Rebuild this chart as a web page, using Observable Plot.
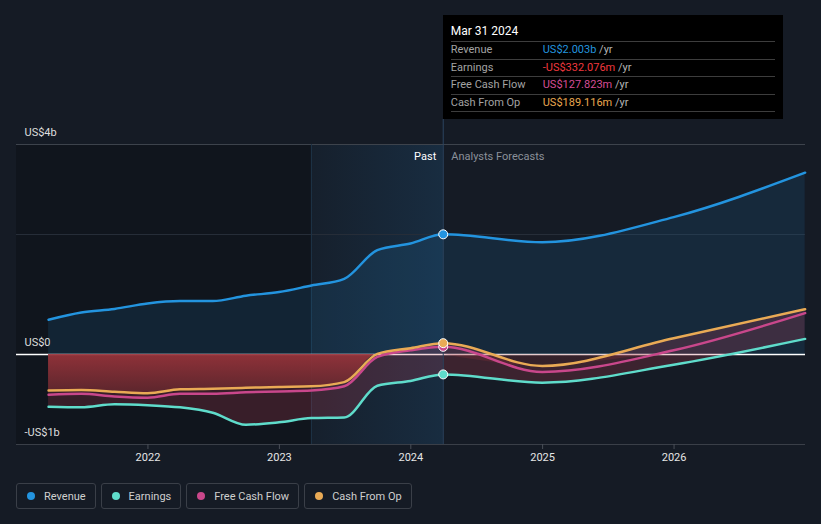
<!DOCTYPE html>
<html><head><meta charset="utf-8">
<script src="https://cdn.jsdelivr.net/npm/d3@7"></script>
<script src="https://cdn.jsdelivr.net/npm/@observablehq/plot@0.6"></script>
<style>
html,body{margin:0;padding:0;background:#151b25;}
#wrap{position:relative;width:821px;height:524px;overflow:hidden;font-family:Roboto,"Open Sans",sans-serif;}
#chart svg{display:block;}
#tip{position:absolute;top:15px;width:340px;height:104px;background:#000;box-sizing:border-box;padding:0 8px;color:#fff;font-size:11px;}
#tip .title{height:26px;box-sizing:border-box;padding-top:9px;line-height:14px;font-size:12px;color:#fff;}
#tip .row{height:17.5px;box-sizing:border-box;border-top:1px solid #3d3d3d;line-height:16.5px;display:flex;white-space:pre;}
#tip .row:last-child{border-bottom:1px solid #3d3d3d;height:18.5px;}
#tip .lab{width:92px;color:#a3a3a3;}
#tip .unit{color:#b5b5b5;}
#legend{position:absolute;left:16px;top:483px;display:flex;gap:5px;}
.item{height:26px;box-sizing:border-box;border:1px solid #3a3f48;border-radius:3px;display:flex;align-items:center;padding:0 9px 0 10px;color:#cfcfcf;font-size:11px;}
.item i{width:8px;height:8px;border-radius:50%;display:inline-block;margin-right:9px;}
</style></head>
<body>
<div id="wrap"><div id="chart"></div><div id="tip"></div><div id="legend"></div></div>
<script>
// ---- data (values in US$ billions) ----
const dates = ["2021-03-31","2021-06-30","2021-09-30","2021-12-31","2022-03-31","2022-06-30","2022-09-30","2022-12-31","2023-03-31","2023-06-30","2023-09-30","2023-12-31","2024-03-31","2024-12-31","2025-12-31","2026-12-31"];
const revenue  = [0.58, 0.70, 0.76, 0.85, 0.89, 0.89, 0.98, 1.04, 1.15, 1.26, 1.74, 1.85, 2.003, 1.87, 2.29, 3.03];
const earnings = [-0.87, -0.88, -0.83, -0.845, -0.88, -0.97, -1.17, -1.13, -1.06, -1.05, -0.52, -0.44, -0.332, -0.47, -0.17, 0.26];
const fcf      = [-0.67, -0.655, -0.70, -0.72, -0.655, -0.655, -0.63, -0.615, -0.60, -0.53, -0.04, 0.07, 0.128, -0.29, 0.07, 0.69];
const cfo      = [-0.60, -0.59, -0.62, -0.645, -0.58, -0.57, -0.555, -0.54, -0.53, -0.46, 0.01, 0.105, 0.189, -0.19, 0.27, 0.755];

const seriesKeys   = ["revenue","earnings","fcf","cfo"];
const seriesNames  = ["Revenue","Earnings","Free Cash Flow","Cash From Op"];
const seriesColors = ["#2394df","#5fdccb","#c9478b","#e9aa55"];

const presentDate = "2024-03-31";
const pastStart   = "2023-03-31";
const xDomain     = ["2021-01-01","2027-01-01"];
const yDomain     = [-1.5, 3.5];
const midGrid     = [2];
const yLabelTicks = [3.5, 0, -1.5];
const xTickDates  = ["2022-01-01","2023-01-01","2024-01-01","2025-01-01","2026-01-01"];

const tipTitle  = "Mar 31 2024";
const tipValues = ["US$2.003b","-US$332.076m","US$127.823m","US$189.116m"];
const tipColors = ["#2394df","#f0383e","#d64d96","#eaa84f"];
const pastLabel = "Past";
const foreLabel = "Analysts Forecasts";

// ---- build ----
const parse = d3.utcParse("%Y-%m-%d");
const present = parse(presentDate);
const rows = dates.map((d, i) => ({date: parse(d), revenue: revenue[i], earnings: earnings[i], fcf: fcf[i], cfo: cfo[i]}));
const pastRows = rows.filter(r => r.date <= present);
const foreRows = rows.filter(r => r.date >= present);
const presentRow = rows.find(r => +r.date === +present);
const dotRows = seriesKeys.map((k, i) => ({date: present, value: presentRow[k], color: seriesColors[i]}));
const fmtY = d => { const v = Math.round(d); return v === 0 ? "US$0" : v < 0 ? "-US$" + (-v) + "b" : "US$" + v + "b"; };
const curve = "monotone-x";

const chart = Plot.plot({
  width: 821, height: 470,
  marginLeft: 16, marginRight: 16, marginTop: 144, marginBottom: 26,
  style: {background: "transparent", fontFamily: "Roboto, 'Open Sans', sans-serif", fontSize: "11px", color: "#e0e0e0"},
  x: {type: "utc", domain: xDomain.map(parse), axis: null},
  y: {domain: yDomain, axis: null},
  color: {type: "identity"},
  marks: [
    Plot.rect([{x1: parse(xDomain[0]), x2: parse(pastStart)}], {x1: "x1", x2: "x2", y1: yDomain[0], y2: yDomain[1], fill: "#000", fillOpacity: 0.2}),
    Plot.rect([{x1: parse(pastStart), x2: present}], {x1: "x1", x2: "x2", y1: yDomain[0], y2: yDomain[1], fill: "url(#pastHi)"}),
    Plot.ruleY([yDomain[1]], {stroke: "#3d434c", strokeWidth: 1}),
    Plot.ruleY(midGrid, {stroke: "#262d38", strokeWidth: 1}),
    Plot.ruleY([yDomain[0]], {stroke: "#3a3f48", strokeWidth: 1}),
    Plot.ruleX([parse(pastStart)], {stroke: "#1e3347", strokeWidth: 1}),
    Plot.axisX({ticks: xTickDates.map(parse), tickFormat: "%Y", tickSize: 5, tickPadding: 4, stroke: "#4a4f58", fill: "#e6e6e6", fontSize: 11}),
    Plot.text(yLabelTicks, {y: d => d, frameAnchor: "left", lineAnchor: "middle", dx: 8, dy: -12, textAnchor: "start", text: fmtY, fill: "#dedede", fontSize: 11}),
    Plot.ruleY([0], {stroke: "#ffffff", strokeWidth: 1.5}),
    Plot.areaY(rows, {x: "date", y1: 0, y2: "revenue", curve, fill: "#2394df", fillOpacity: 0.12}),
    Plot.areaY(rows, {x: "date", y1: "earnings", y2: "cfo", curve, fill: "#c84058", fillOpacity: 0.22}),
    Plot.areaY(pastRows, {x: "date", y1: 0, y2: d => Math.min(d.cfo, 0), curve, fill: "url(#redPast)", fillOpacity: 0.92}),
    Plot.areaY(foreRows, {x: "date", y1: 0, y2: d => Math.min(d.cfo, 0), curve, fill: "url(#redPast)", fillOpacity: 0.25}),
    Plot.ruleX([present], {stroke: "#2b4460", strokeWidth: 1, insetTop: -25}),
    ...seriesKeys.map((k, i) => Plot.line(rows, {x: "date", y: k, curve, stroke: seriesColors[i], strokeWidth: 2.5})),
    Plot.dot(dotRows, {x: "date", y: "value", fill: "color", stroke: "#ffffff", strokeWidth: 1, r: 4.5}),
    Plot.text([present], {x: d => d, frameAnchor: "top", lineAnchor: "middle", dx: -7, dy: 12, textAnchor: "end", text: () => pastLabel, fill: "#ffffff", fontSize: 11}),
    Plot.text([present], {x: d => d, frameAnchor: "top", lineAnchor: "middle", dx: 8, dy: 12, textAnchor: "start", text: () => foreLabel, fill: "#8a9099", fontSize: 11})
  ]
});
document.getElementById("chart").appendChild(chart);

// gradients, positioned from the plot's own scales
const ys = chart.scale("y");
const defs = d3.select(chart).insert("defs", ":first-child");
const rg = defs.append("linearGradient").attr("id", "redPast").attr("gradientUnits", "userSpaceOnUse")
  .attr("x1", 0).attr("x2", 0).attr("y1", ys.apply(0)).attr("y2", ys.apply(-0.7));
rg.append("stop").attr("offset", 0).attr("stop-color", "#9a343b");
rg.append("stop").attr("offset", 1).attr("stop-color", "#5e262d");
const hg = defs.append("linearGradient").attr("id", "pastHi").attr("x1", 0).attr("x2", 1).attr("y1", 0).attr("y2", 0);
hg.append("stop").attr("offset", 0).attr("stop-color", "#2a90dc").attr("stop-opacity", 0.04);
hg.append("stop").attr("offset", 1).attr("stop-color", "#2a90dc").attr("stop-opacity", 0.15);

// tooltip
const tip = document.getElementById("tip");
tip.style.left = chart.scale("x").apply(present) + "px";
let html = `<div class="title">${tipTitle}</div>`;
seriesNames.forEach((n, i) => {
  html += `<div class="row"><span class="lab">${n}</span><span style="color:${tipColors[i]}">${tipValues[i]}</span><span class="unit"> /yr</span></div>`;
});
tip.innerHTML = html;

// legend
document.getElementById("legend").innerHTML = seriesNames.map((n, i) =>
  `<div class="item"><i style="background:${seriesColors[i]}"></i>${n}</div>`).join("");
</script>
</body></html>
